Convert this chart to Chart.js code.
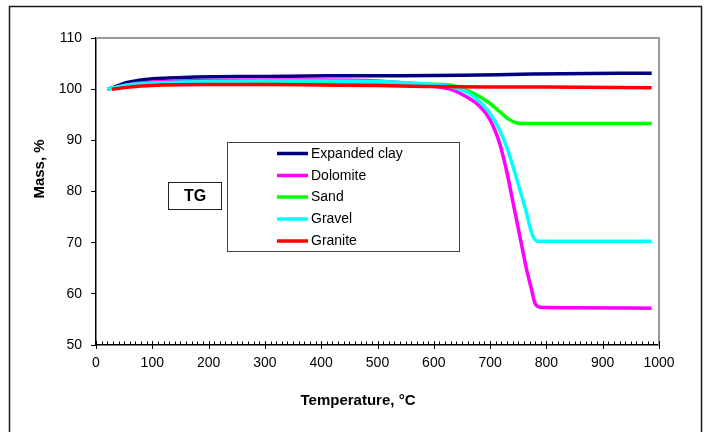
<!DOCTYPE html>
<html><head><meta charset="utf-8">
<script src="https://cdn.jsdelivr.net/npm/chart.js@4/dist/chart.umd.min.js"></script>
<style>html,body{margin:0;padding:0;background:#fff}#wrap{width:704px;height:432px}</style>
</head><body><div id="wrap"><canvas id="c" width="704" height="432"></canvas></div>
<script>
// ---- data ----
const seriesNames = ['Expanded clay', 'Dolomite', 'Sand', 'Gravel', 'Granite'];
const seriesColors = ['#000080', '#FF00FF', '#00FF00', '#00FFFF', '#FF0000'];

const clayT    = [20, 30, 46, 65, 87, 130, 176, 300, 412, 540, 650, 776, 930, 987];
const clayMass = [100, 100.3, 101.0, 101.5, 101.9, 102.2, 102.4, 102.5, 102.6, 102.6, 102.7, 102.95, 103.1, 103.1];

const dolomiteT    = [20, 40, 70, 100, 200, 300, 400, 500, 560, 599, 629, 658, 682, 700, 717, 729, 741, 753, 765, 774, 780, 789, 850, 987];
const dolomiteMass = [100, 100.5, 101.1, 101.4, 101.7, 101.8, 101.8, 101.6, 101.1, 100.6, 100.0, 98.5, 96.6, 94.0, 89.4, 84.2, 77.7, 71.2, 64.7, 60.7, 58.1, 57.4, 57.3, 57.2];

const sandT    = [20, 40, 70, 100, 200, 300, 400, 500, 580, 629, 658, 682, 700, 717, 735, 747, 760, 800, 987];
const sandMass = [100, 100.4, 100.9, 101.1, 101.3, 101.3, 101.3, 101.2, 101.0, 100.8, 99.8, 98.5, 97.2, 95.6, 94.0, 93.4, 93.3, 93.3, 93.3];

const gravelT    = [20, 40, 70, 100, 200, 300, 400, 500, 560, 600, 629, 658, 682, 700, 717, 729, 741, 753, 765, 774, 784, 800, 987];
const gravelMass = [100, 100.5, 101.0, 101.2, 101.5, 101.6, 101.6, 101.5, 101.2, 100.9, 100.5, 99.5, 97.5, 95.3, 92.0, 88.8, 84.8, 80.3, 75.7, 71.8, 70.3, 70.3, 70.3];

const graniteT    = [28, 50, 80, 117, 200, 295, 400, 500, 584, 700, 800, 987];
const graniteMass = [100, 100.3, 100.6, 100.8, 100.9, 100.9, 100.8, 100.7, 100.5, 100.4, 100.4, 100.3];

const xTitle = 'Temperature, °C';
const yTitle = 'Mass, %';
const boxLabel = 'TG';

// ---- build ----
const seriesT = [clayT, dolomiteT, sandT, gravelT, graniteT];
const seriesM = [clayMass, dolomiteMass, sandMass, gravelMass, graniteMass];
const datasets = seriesNames.map((name, i) => ({
  label: name,
  data: seriesT[i].map((t, j) => ({x: t, y: seriesM[i][j]})),
  borderColor: seriesColors[i],
  backgroundColor: seriesColors[i],
  borderWidth: 3.5,
  pointRadius: 0,
  cubicInterpolationMode: 'monotone',
  fill: false,
  order: seriesNames.length - i
}));

const FONT = '"Liberation Sans", Arial, sans-serif';

const decor = {
  id: 'decor',
  beforeDraw(chart) {
    const ctx = chart.ctx;
    ctx.save();
    ctx.fillStyle = '#fff';
    ctx.fillRect(0, 0, chart.width, chart.height);
    ctx.strokeStyle = '#1a1a1a';
    ctx.lineWidth = 1.5;
    ctx.strokeRect(9.5, 6.5, 692, 460);
    ctx.restore();
  },
  beforeDatasetsDraw(chart) {
    const {ctx, chartArea: a} = chart;
    ctx.save();
    ctx.strokeStyle = '#999';
    ctx.lineWidth = 2;
    ctx.beginPath();
    ctx.moveTo(a.left, a.top);
    ctx.lineTo(a.right, a.top);
    ctx.lineTo(a.right, a.bottom);
    ctx.stroke();
    // x minor / major ticks
    const xs = chart.scales.x;
    ctx.strokeStyle = '#000';
    ctx.lineWidth = 1;
    for (let v = 0; v <= 1000; v += 10) {
      const px = Math.round(xs.getPixelForValue(v)) + 0.5;
      ctx.beginPath();
      if (v % 100 === 0) { ctx.moveTo(px, a.bottom - 4); ctx.lineTo(px, a.bottom + 4); }
      else { ctx.moveTo(px, a.bottom - 3.5); ctx.lineTo(px, a.bottom); }
      ctx.stroke();
    }
    ctx.restore();
  },
  afterDraw(chart) {
    const ctx = chart.ctx;
    ctx.save();
    // axis titles
    ctx.fillStyle = '#000';
    ctx.font = 'bold 15px ' + FONT;
    ctx.textAlign = 'center';
    ctx.textBaseline = 'middle';
    ctx.fillText(xTitle, 358, 401);
    ctx.save();
    ctx.translate(40, 169);
    ctx.rotate(-Math.PI / 2);
    ctx.fillText(yTitle, 0, 0);
    ctx.restore();
    // TG box
    ctx.fillStyle = '#fff';
    ctx.fillRect(168, 182, 54, 28);
    ctx.strokeStyle = '#222';
    ctx.lineWidth = 1;
    ctx.strokeRect(168.5, 182.5, 53, 27);
    ctx.fillStyle = '#000';
    ctx.font = 'bold 16px ' + FONT;
    ctx.fillText(boxLabel, 195, 197);
    // legend
    ctx.fillStyle = '#fff';
    ctx.fillRect(227, 142, 232, 110);
    ctx.strokeStyle = '#444';
    ctx.strokeRect(227.5, 142.5, 232, 109);
    ctx.font = '14px ' + FONT;
    ctx.textAlign = 'left';
    const rowY = [153.5, 175.5, 197, 219, 241];
    chart.data.datasets.forEach((ds, i) => {
      ctx.strokeStyle = ds.borderColor;
      ctx.lineWidth = 3.5;
      ctx.beginPath();
      ctx.moveTo(277, rowY[i]);
      ctx.lineTo(308, rowY[i]);
      ctx.stroke();
      ctx.fillStyle = '#000';
      ctx.fillText(ds.label, 311, rowY[i] + 0.5);
    });
    ctx.restore();
  }
};

new Chart(document.getElementById('c'), {
  type: 'line',
  data: {datasets},
  options: {
    responsive: false,
    animation: false,
    devicePixelRatio: 1,
    layout: {padding: {left: 0, right: 45, top: 38, bottom: 0}},
    plugins: {legend: {display: false}, tooltip: {enabled: false}},
    scales: {
      x: {
        type: 'linear', min: 0, max: 1000,
        ticks: {stepSize: 100, color: '#000', font: {family: FONT, size: 14}, padding: 10, maxRotation: 0, autoSkip: false,
                callback: v => String(v)},
        grid: {display: false, drawTicks: false},
        border: {display: true, color: '#000', width: 1.5},
        afterFit(s) { s.height = 87; }
      },
      y: {
        type: 'linear', min: 50, max: 110,
        ticks: {stepSize: 10, color: '#000', font: {family: FONT, size: 14}, padding: 9, callback: v => String(v)},
        grid: {display: true, drawOnChartArea: false, drawTicks: true, tickLength: 5, color: '#000'},
        border: {display: true, color: '#000', width: 1.5},
        afterFit(s) { s.width = 96; }
      }
    }
  },
  plugins: [decor]
});
</script>
</body></html>
